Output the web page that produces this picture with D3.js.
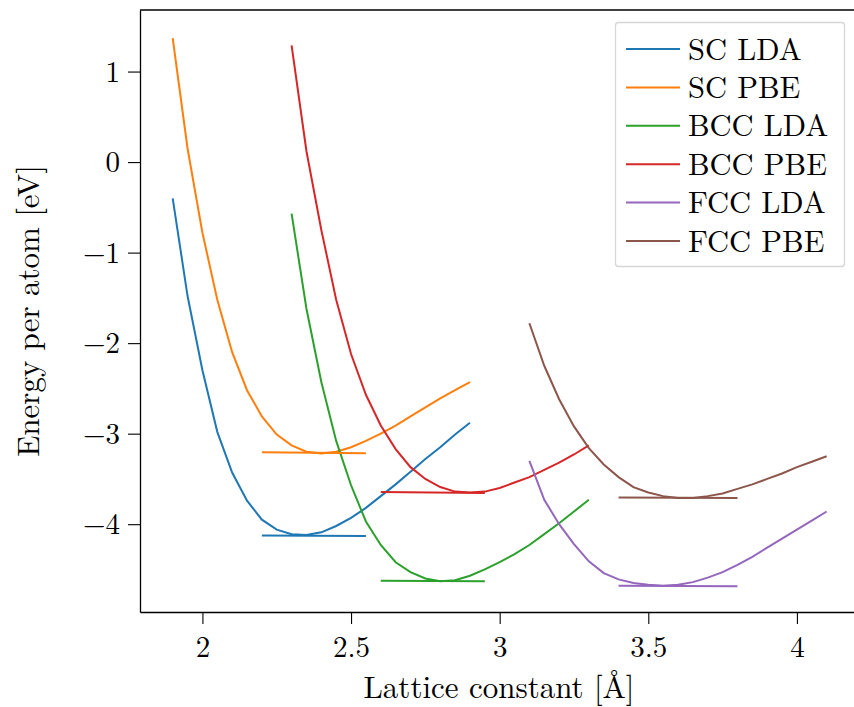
<!DOCTYPE html>
<html>
<head>
<meta charset="utf-8">
<script src="https://cdn.jsdelivr.net/npm/d3@7"></script>
<style>
  body { margin: 0; background: #fff; }
  svg text { font-family: "Latin Modern Roman", "CMU Serif", "Liberation Serif", serif; fill: #000; }
</style>
</head>
<body>
<svg id="chart" width="854" height="707"></svg>
<script>
// lattice constants (Å) for each structure
let scA = [1.90, 1.95, 2.00, 2.05, 2.10, 2.15, 2.20, 2.25, 2.30, 2.35, 2.40, 2.45, 2.50, 2.55, 2.60, 2.65, 2.70, 2.75, 2.80, 2.85, 2.90];
let bccA = [2.30, 2.35, 2.40, 2.45, 2.50, 2.55, 2.60, 2.65, 2.70, 2.75, 2.80, 2.85, 2.90, 2.95, 3.00, 3.05, 3.10, 3.15, 3.20, 3.25, 3.30];
let fccA = [3.10, 3.15, 3.20, 3.25, 3.30, 3.35, 3.40, 3.45, 3.50, 3.55, 3.60, 3.65, 3.70, 3.75, 3.80, 3.85, 3.90, 3.95, 4.00, 4.05, 4.10];

// energy per atom (eV)
let scLDA  = [-0.40, -1.48, -2.30, -2.98, -3.43, -3.74, -3.95, -4.06, -4.11, -4.12, -4.09, -4.02, -3.93, -3.82, -3.69, -3.56, -3.42, -3.28, -3.15, -3.01, -2.88];
let scPBE  = [1.37, 0.15, -0.78, -1.52, -2.10, -2.52, -2.81, -3.01, -3.13, -3.20, -3.22, -3.20, -3.15, -3.08, -3.00, -2.91, -2.81, -2.71, -2.61, -2.52, -2.43];
let bccLDA = [-0.57, -1.62, -2.43, -3.08, -3.57, -3.97, -4.23, -4.42, -4.53, -4.60, -4.63, -4.62, -4.57, -4.50, -4.42, -4.33, -4.23, -4.11, -3.99, -3.86, -3.73];
let bccPBE = [1.29, 0.12, -0.75, -1.52, -2.12, -2.57, -2.91, -3.17, -3.37, -3.50, -3.59, -3.64, -3.65, -3.64, -3.60, -3.54, -3.48, -3.40, -3.32, -3.23, -3.13];
let fccLDA = [-3.30, -3.73, -4.00, -4.22, -4.41, -4.54, -4.61, -4.65, -4.67, -4.68, -4.67, -4.64, -4.59, -4.53, -4.45, -4.36, -4.26, -4.16, -4.06, -3.96, -3.86];
let fccPBE = [-1.78, -2.25, -2.62, -2.92, -3.16, -3.34, -3.48, -3.59, -3.65, -3.69, -3.71, -3.71, -3.69, -3.66, -3.61, -3.56, -3.50, -3.44, -3.37, -3.31, -3.25];

// fitted minimum energy lines (start, end, energy)
let minRangeSC = [2.20, 2.55];
let minRangeBCC = [2.60, 2.95];
let minRangeFCC = [3.40, 3.80];
let minLines = [
    { name: "SC LDA", range: minRangeSC, e: [-4.125, -4.13] },
    { name: "SC PBE", range: minRangeSC, e: [-3.205, -3.215] },
    { name: "BCC LDA", range: minRangeBCC, e: [-4.625, -4.63] },
    { name: "BCC PBE", range: minRangeBCC, e: [-3.645, -3.655] },
    { name: "FCC LDA", range: minRangeFCC, e: [-4.68, -4.685] },
    { name: "FCC PBE", range: minRangeFCC, e: [-3.705, -3.71] }
];

let xTicks = [2, 2.5, 3, 3.5, 4];
let yTicks = [1, 0, -1, -2, -3, -4];

let seriesNames = ["SC LDA", "SC PBE", "BCC LDA", "BCC PBE", "FCC LDA", "FCC PBE"];
let colors = ["#1f77b4", "#ff7f0e", "#2ca02c", "#d62728", "#9467bd", "#8c564b"];

let series = [
    { name: "SC LDA", a: scA, e: scLDA },
    { name: "SC PBE", a: scA, e: scPBE },
    { name: "BCC LDA", a: bccA, e: bccLDA },
    { name: "BCC PBE", a: bccA, e: bccPBE },
    { name: "FCC LDA", a: fccA, e: fccLDA },
    { name: "FCC PBE", a: fccA, e: fccPBE }
];

let plotLeft = 140, plotTop = 10, plotBottom = 612;

let x = d3.scaleLinear().domain([1.79, 4.21]).range([plotLeft, plotLeft + 2.42 * 297.25]);
let y = d3.scaleLinear().domain([-4.97, 1.68]).range([plotBottom, plotTop]);
let color = d3.scaleOrdinal().domain(seriesNames).range(colors);

let svg = d3.select("#chart");

// curves
let line = d3.line().x(d => x(d[0])).y(d => y(d[1]));

svg.append("g")
    .selectAll("path")
    .data(series)
    .join("path")
    .attr("fill", "none")
    .attr("stroke", d => color(d.name))
    .attr("stroke-width", 2)
    .attr("d", d => line(d.a.map((v, i) => [v, d.e[i]])));

// minimum lines
svg.append("g")
    .selectAll("path")
    .data(minLines)
    .join("path")
    .attr("fill", "none")
    .attr("stroke", d => color(d.name))
    .attr("stroke-width", 2)
    .attr("d", d => line([[d.range[0], d.e[0]], [d.range[1], d.e[1]]]));

// axes
let fontSize = 29;

let xAxis = svg.append("g")
    .attr("transform", "translate(0," + plotBottom + ")")
    .call(d3.axisBottom(x).tickValues(xTicks).tickFormat(d3.format("")).tickSizeInner(12).tickSizeOuter(0).tickPadding(10));

let yAxis = svg.append("g")
    .attr("transform", "translate(" + plotLeft + ",0)")
    .call(d3.axisLeft(y).tickValues(yTicks).tickFormat(d => d < 0 ? "\u2212" + Math.abs(d) : d).tickSizeInner(12).tickSizeOuter(0).tickPadding(8));

[xAxis, yAxis].forEach(g => {
    g.selectAll("text").style("font-size", fontSize + "px").attr("fill", "#000");
    g.selectAll("line").attr("stroke", "#000").attr("stroke-width", 1.1);
    g.select(".domain").attr("stroke", "#000").attr("stroke-width", 1.3);
});
xAxis.selectAll("text").attr("dy", "0.8em");
yAxis.selectAll("text").attr("dy", "0.33em");

// top spine
svg.append("line")
    .attr("x1", plotLeft).attr("x2", 854)
    .attr("y1", plotTop).attr("y2", plotTop)
    .attr("stroke", "#000").attr("stroke-width", 1.3);

// axis labels
svg.append("text")
    .attr("x", 499)
    .attr("y", 698)
    .attr("text-anchor", "middle")
    .style("font-size", "31px")
    .text("Lattice constant [Å]");

svg.append("text")
    .attr("transform", "translate(39," + 311 + ") rotate(-90)")
    .attr("text-anchor", "middle")
    .style("font-size", "31px")
    .text("Energy per atom [eV]");

// legend
let legend = svg.append("g");
legend.append("rect")
    .attr("x", 615.5).attr("y", 22.5)
    .attr("width", 229).attr("height", 244)
    .attr("rx", 3)
    .attr("fill", "#fff").attr("fill-opacity", 0.8)
    .attr("stroke", "#d6d6d6").attr("stroke-width", 1.3);

let items = legend.selectAll("g.item")
    .data(seriesNames)
    .join("g")
    .attr("class", "item")
    .attr("transform", (d, i) => "translate(0," + (49 + i * 38.4) + ")");

items.append("line")
    .attr("x1", 626).attr("x2", 680)
    .attr("stroke", d => color(d))
    .attr("stroke-width", 2);

items.append("text")
    .attr("x", 688)
    .attr("dy", "0.35em")
    .style("font-size", "30.5px")
    .text(d => d);
</script>
</body>
</html>
